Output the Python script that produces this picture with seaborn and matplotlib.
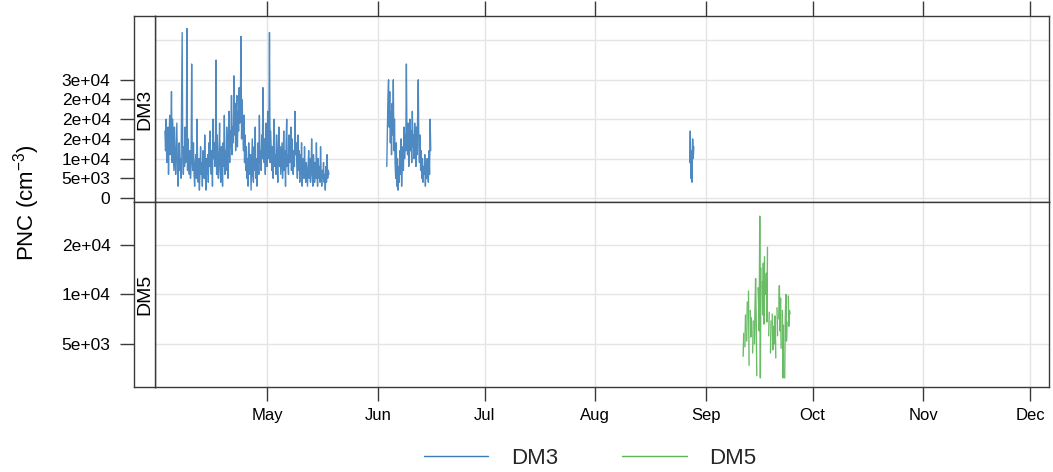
import numpy as np
import pandas as pd
import matplotlib
matplotlib.use("Agg")
import matplotlib.pyplot as plt
from matplotlib.ticker import NullLocator
from matplotlib.lines import Line2D
import seaborn as sns

# ---------------------------------------------------------------------------
# Particle number concentration, 4-hourly means, in thousands per cm3
# ---------------------------------------------------------------------------
sites = ["DM3", "DM5"]
site_colors = ["#3b7dbb", "#5ab556"]

dm3_spring_start = "2019-04-02 06:00"
dm3_spring_k = [
    17, 12, 20, 9, 14, 18,      # Apr 2
    6, 15, 21, 11, 16, 27,
    9, 20, 13, 7, 18, 10,
    6, 12, 19, 8, 3, 9,
    14, 7, 10, 5, 22, 42,
    10, 6, 13, 8, 18, 9,
    11, 43, 7, 15, 9, 6,        # Apr 8
    12, 5, 8, 34, 10, 7,
    14, 6, 3, 9, 11, 5,
    20, 8, 4, 10, 2, 7,
    13, 6, 9, 3, 12, 8,
    5, 16, 7, 2, 10, 6,
    11, 4, 14, 8, 17, 9,        # Apr 14
    6, 12, 3, 20, 10, 14,
    8, 13, 35, 6, 16, 9,
    5, 11, 19, 7, 4, 13,
    9, 3, 14, 8, 21, 6,
    12, 7, 18, 10, 5, 15,
    22, 9, 17, 13, 26, 11,      # Apr 20
    18, 14, 31, 16, 24, 12,
    20, 26, 13, 22, 17, 28,
    19, 24, 41, 15, 25, 18,
    12, 21, 9, 16, 7, 13,
    5, 10, 3, 14, 8, 6,
    11, 2, 9, 15, 6, 4,         # Apr 26
    13, 7, 18, 5, 10, 3,
    8, 14, 6, 21, 9, 12,
    7, 16, 10, 28, 13, 9,
    15, 6, 19, 11, 8, 22,
    10, 16, 42, 9, 17, 12,      # May 1
    7, 13, 5, 15, 20, 8,
    11, 6, 16, 9, 4, 12,
    18, 8, 13, 6, 10, 14,
    5, 9, 17, 7, 12, 3,
    14, 20, 8, 11, 6, 16,
    9, 13, 18, 7, 15, 10,       # May 7
    6, 12, 8, 22, 11, 14,
    9, 5, 16, 7, 12, 4,
    11, 6, 14, 3, 8, 10,
    5, 13, 7, 4, 9, 6,
    3, 8, 12, 5, 10, 4,
    7, 15, 6, 3, 11, 8,         # May 13
    4, 9, 5, 14, 6, 3,
    10, 5, 8, 4, 13, 6,
    3, 7, 5, 9, 4, 6,
    2, 8, 4, 11, 5, 7,
    6,
]

dm3_june_start = "2019-06-03 12:00"
dm3_june_k = [
    8, 17, 26,
    30, 18, 27, 14, 22, 11,     # Jun 4
    24, 16, 30, 12, 20, 9,
    5, 14, 3, 10, 2, 8,
    4, 12, 6, 15, 3, 9,
    13, 7, 18, 10, 16, 12,
    34, 15, 11, 19, 8, 14,      # Jun 9
    20, 12, 17, 9, 22, 13,
    16, 10, 19, 14, 8, 18,
    11, 21, 30, 13, 9, 16,
    7, 12, 5, 10, 4, 8,
    6, 11, 3, 9, 5, 10,
    7, 4, 12, 6, 20, 12,        # Jun 15
]

dm3_august_start = "2019-08-27 12:00"
dm3_august_k = [9, 17, 5, 12, 4, 15, 10, 13]

dm5_start = "2019-09-11 12:00"
dm5_k = [
    4.2, 5.8, np.nan,
    4.8, 7.5, np.nan, 5.2, 9.0, np.nan,     # Sep 12
    10.5, 3.7, np.nan, 8.0, 5.5, 7.2,
    np.nan, 4.4, 6.9, np.nan, 5.0, 8.4,
    12.5, 7.0, 3.2, np.nan, 11.0, 8.8,
    6.0, 30.0, 3.1, 14.5, np.nan, 12.0,     # Sep 16
    7.5, 15.5, 6.6, 17.0, np.nan, 10.0,
    13.5, 6.8, 19.4, np.nan, 5.6, 7.8,
    np.nan, 4.4, 6.9, np.nan, 7.6, 4.6,
    6.4, np.nan, 5.0, 7.4, 4.1, np.nan,     # Sep 20
    8.3, 5.6, np.nan, 7.1, 11.3, 6.0,
    9.5, 4.7, np.nan, 8.0, 3.1, 6.5,
    np.nan, 3.1, 7.2, 10.0, 5.2, 6.8,
    np.nan, 9.8, 6.4, 8.0, 7.6,             # Sep 24
]

month_starts = ["2019-05-01", "2019-06-01", "2019-07-01", "2019-08-01",
                "2019-09-01", "2019-10-01", "2019-11-01", "2019-12-01"]
month_labels = ["May", "Jun", "Jul", "Aug", "Sep", "Oct", "Nov", "Dec"]

dm3_ticks = [0, 5000, 10000, 15000, 20000, 25000, 30000]
dm3_tick_labels = ["0", "5e+03", "1e+04", "2e+04", "2e+04", "2e+04", "3e+04"]
dm3_grid = [0, 10000, 20000, 30000, 40000]
dm5_ticks = [5000, 10000, 20000]
dm5_tick_labels = ["5e+03", "1e+04", "2e+04"]


def series_frame(site, start, values_k, run0):
    """4-hourly records; a missing value starts a new line run."""
    t = pd.date_range(start, periods=len(values_k), freq="4h")
    v = np.asarray(values_k, dtype=float) * 1000.0
    run = run0 + np.cumsum(np.isnan(v))
    df = pd.DataFrame({"time": t, "pnc": v, "site": site, "run": run})
    return df.dropna()


frames = [
    series_frame("DM3", dm3_spring_start, dm3_spring_k, 0),
    series_frame("DM3", dm3_june_start, dm3_june_k, 1000),
    series_frame("DM3", dm3_august_start, dm3_august_k, 2000),
    series_frame("DM5", dm5_start, dm5_k, 3000),
]
data = pd.concat(frames, ignore_index=True)

# ---------------------------------------------------------------------------
sns.set_theme(style="white")
plt.rcParams["font.family"] = ["Liberation Sans", "DejaVu Sans"]
plt.rcParams["mathtext.fontset"] = "custom"
plt.rcParams["mathtext.rm"] = "Liberation Sans"
plt.rcParams["mathtext.default"] = "regular"

W, H = 1053, 472
fig = plt.figure(figsize=(W / 100, H / 100), dpi=100)


def fx(px):
    return px / W


def fy(py):
    return 1 - py / H


frame_col = "#3a3a3a"
grid_col = "#e4e4e4"
text_col = "#000000"
strip_l, strip_r, panel_r = 134, 155, 1049
panels = [(16, 202), (202, 387)]

xlim = (pd.Timestamp("2019-03-30 11:00"), pd.Timestamp("2019-12-06 08:00"))
month_pos = pd.to_datetime(month_starts)

for i, site in enumerate(sites):
    top, bot = panels[i]
    ax = fig.add_axes([fx(strip_r), fy(bot), fx(panel_r - strip_r), (bot - top) / H])
    sax = fig.add_axes([fx(strip_l), fy(bot), fx(strip_r - strip_l), (bot - top) / H])

    sub = data[data["site"] == site]
    sns.lineplot(data=sub, x="time", y="pnc", units="run", estimator=None,
                 color=site_colors[i], lw=1.0, alpha=0.9, ax=ax, legend=False)

    if site == "DM3":
        ylim = (-1015, 46190)
        ticks, labels, grid = dm3_ticks, dm3_tick_labels, dm3_grid
    else:
        ax.set_yscale("log")
        sax.set_yscale("log")
        ylim = (2730, 36600)
        ticks, labels, grid = dm5_ticks, dm5_tick_labels, dm5_ticks

    for a in (ax, sax):
        a.set_ylim(*ylim)
        a.yaxis.set_minor_locator(NullLocator())
        for s in a.spines.values():
            s.set_color(frame_col)
            s.set_linewidth(1.0)
            s.set_visible(True)
        a.set_xlabel("")
        a.set_ylabel("")

    ax.set_xlim(*xlim)
    ax.set_xticks(month_pos)
    ax.set_yticks(grid)
    ax.grid(True, color=grid_col, lw=1.0)
    ax.set_axisbelow(True)
    ax.tick_params(axis="y", left=False, labelleft=False, length=0)
    if i == 0:
        ax.tick_params(axis="x", top=True, bottom=False, labeltop=False,
                       labelbottom=False, direction="out", length=11,
                       width=1.0, color=frame_col)
    else:
        ax.set_xticklabels(month_labels)
        ax.tick_params(axis="x", top=False, bottom=True, labelbottom=True,
                       direction="out", length=10, width=1.0, color=frame_col,
                       labelsize=12, pad=5, labelcolor=text_col)

    # strip with site name; carries the y axis
    sax.set_xlim(0, 1)
    sax.set_xticks([])
    sax.set_yticks(ticks)
    sax.set_yticklabels(labels)
    sax.tick_params(axis="y", left=True, direction="out", length=10, width=1.0,
                    color=frame_col, labelsize=12.5, pad=7, labelcolor=text_col)
    sax.set_facecolor("white")
    sax.text(0.5, 0.5, site, rotation=90, ha="center", va="center",
             fontsize=14, color=text_col, transform=sax.transAxes)

fig.text(fx(27), fy(203), "PNC (cm$^{-3}$)", rotation=90, ha="center",
         va="center", fontsize=16, color=text_col)

handles = [Line2D([], [], color=c, lw=1.0) for c in site_colors]
fig.legend(handles, sites, loc="center", bbox_to_anchor=(fx(590), fy(458)),
           ncol=2, frameon=False, fontsize=16, handlelength=2.9,
           handletextpad=1.0, columnspacing=2.9)

fig.savefig("out.png", dpi=100)
